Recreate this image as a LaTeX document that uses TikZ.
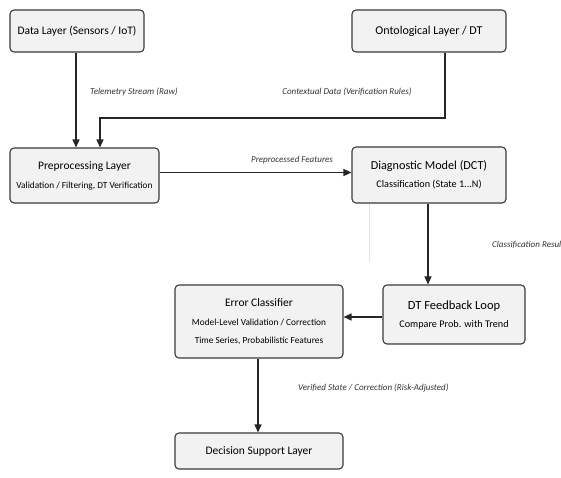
\documentclass[tikz,border=0pt]{standalone}
\usepackage{fontspec}
\setmainfont{Carlito}
\usetikzlibrary{arrows.meta}
\definecolor{boxfill}{HTML}{F2F2F2}
\definecolor{boxline}{HTML}{3A3A3A}
\newcommand\subline{\fontsize{9.3}{11}\selectfont}
\newcommand\subwide{\fontsize{10.2}{12}\selectfont}
\begin{document}
\begin{tikzpicture}[x=1pt,y=-1pt,
    layer/.style={draw=boxline,fill=boxfill,line width=1.1pt,rounded corners=4pt,align=center,inner sep=2pt,font=\fontsize{11.5}{13}\selectfont},
    flow/.style={draw=black!85,line width=1.3pt,-{Triangle[length=8pt,width=7pt]}},
    tag/.style={font=\fontsize{9}{10}\selectfont\itshape,text=black!80,inner sep=0pt}]
    \fill[white](0,0)rectangle(561,477);
    \useasboundingbox(0,0)rectangle(561,477);
    % boxes
    \node[layer,minimum width=134pt,minimum height=42pt](data)at(77,31){Data Layer (Sensors / IoT)};
    \node[layer,minimum width=154pt,minimum height=42pt](onto)at(429,31){\fontsize{12}{13}\selectfont Ontological Layer / DT};
    \node[layer,minimum width=149pt,minimum height=55pt](pre)at(84.5,175.5){Preprocessing Layer\\[6pt]{\subline Validation / Filtering, DT Verification}};
    \node[layer,minimum width=154pt,minimum height=56pt](diag)at(429,175){\fontsize{12.2}{13}\selectfont Diagnostic Model (DCT)\\[5pt]{\subwide Classification (State 1...N)}};
    \node[layer,minimum width=168pt,minimum height=73pt](err)at(259,321.5){Error Classifier\\[6pt]{\subline Model-Level Validation / Correction}\\[5pt]{\subline Time Series, Probabilistic Features}};
    \node[layer,minimum width=142pt,minimum height=59pt](fb)at(454,314.5){\fontsize{12.5}{13}\selectfont DT Feedback Loop\\[5pt]{\subwide Compare Prob. with Trend}};
    \node[layer,minimum width=168pt,minimum height=36pt](dec)at(259,451){Decision Support Layer};
    % labels
    \node[tag,anchor=west](l1)at(90,92){Telemetry Stream (Raw)};
    \node[tag](l2)at(347,92){Contextual Data (Verification Rules)};
    \node[tag](l3)at(292,160){Preprocessed Features};
    \node[tag,anchor=west](l4)at(492,245){Classification Result};
    \node[tag,anchor=west](l5)at(298,388){Verified State / Correction (Risk-Adjusted)};
    % connectors
    \coordinate(bend)at(100,118);
    \draw[flow]([xshift=-1pt]data.south)--([xshift=-1pt]data.south|-pre.north);
    \draw[flow]([xshift=16pt]onto.south)|-(bend)--(bend|-pre.north);
    \draw[flow]([yshift=3pt]pre.east)--([yshift=3pt]pre.east-|diag.west);
    \draw[flow]([xshift=-1pt]diag.south)--([xshift=-1pt]diag.south|-fb.north);
    \draw[flow]([yshift=-2.5pt]fb.west)--([yshift=-2.5pt]fb.west-|err.east);
    \draw[flow]([xshift=-1pt]err.south)--([xshift=-1pt]err.south|-dec.north);
    \draw[black!12,line width=1pt]([xshift=-60pt]diag.south)--++(0,58);
\end{tikzpicture}
\end{document}
